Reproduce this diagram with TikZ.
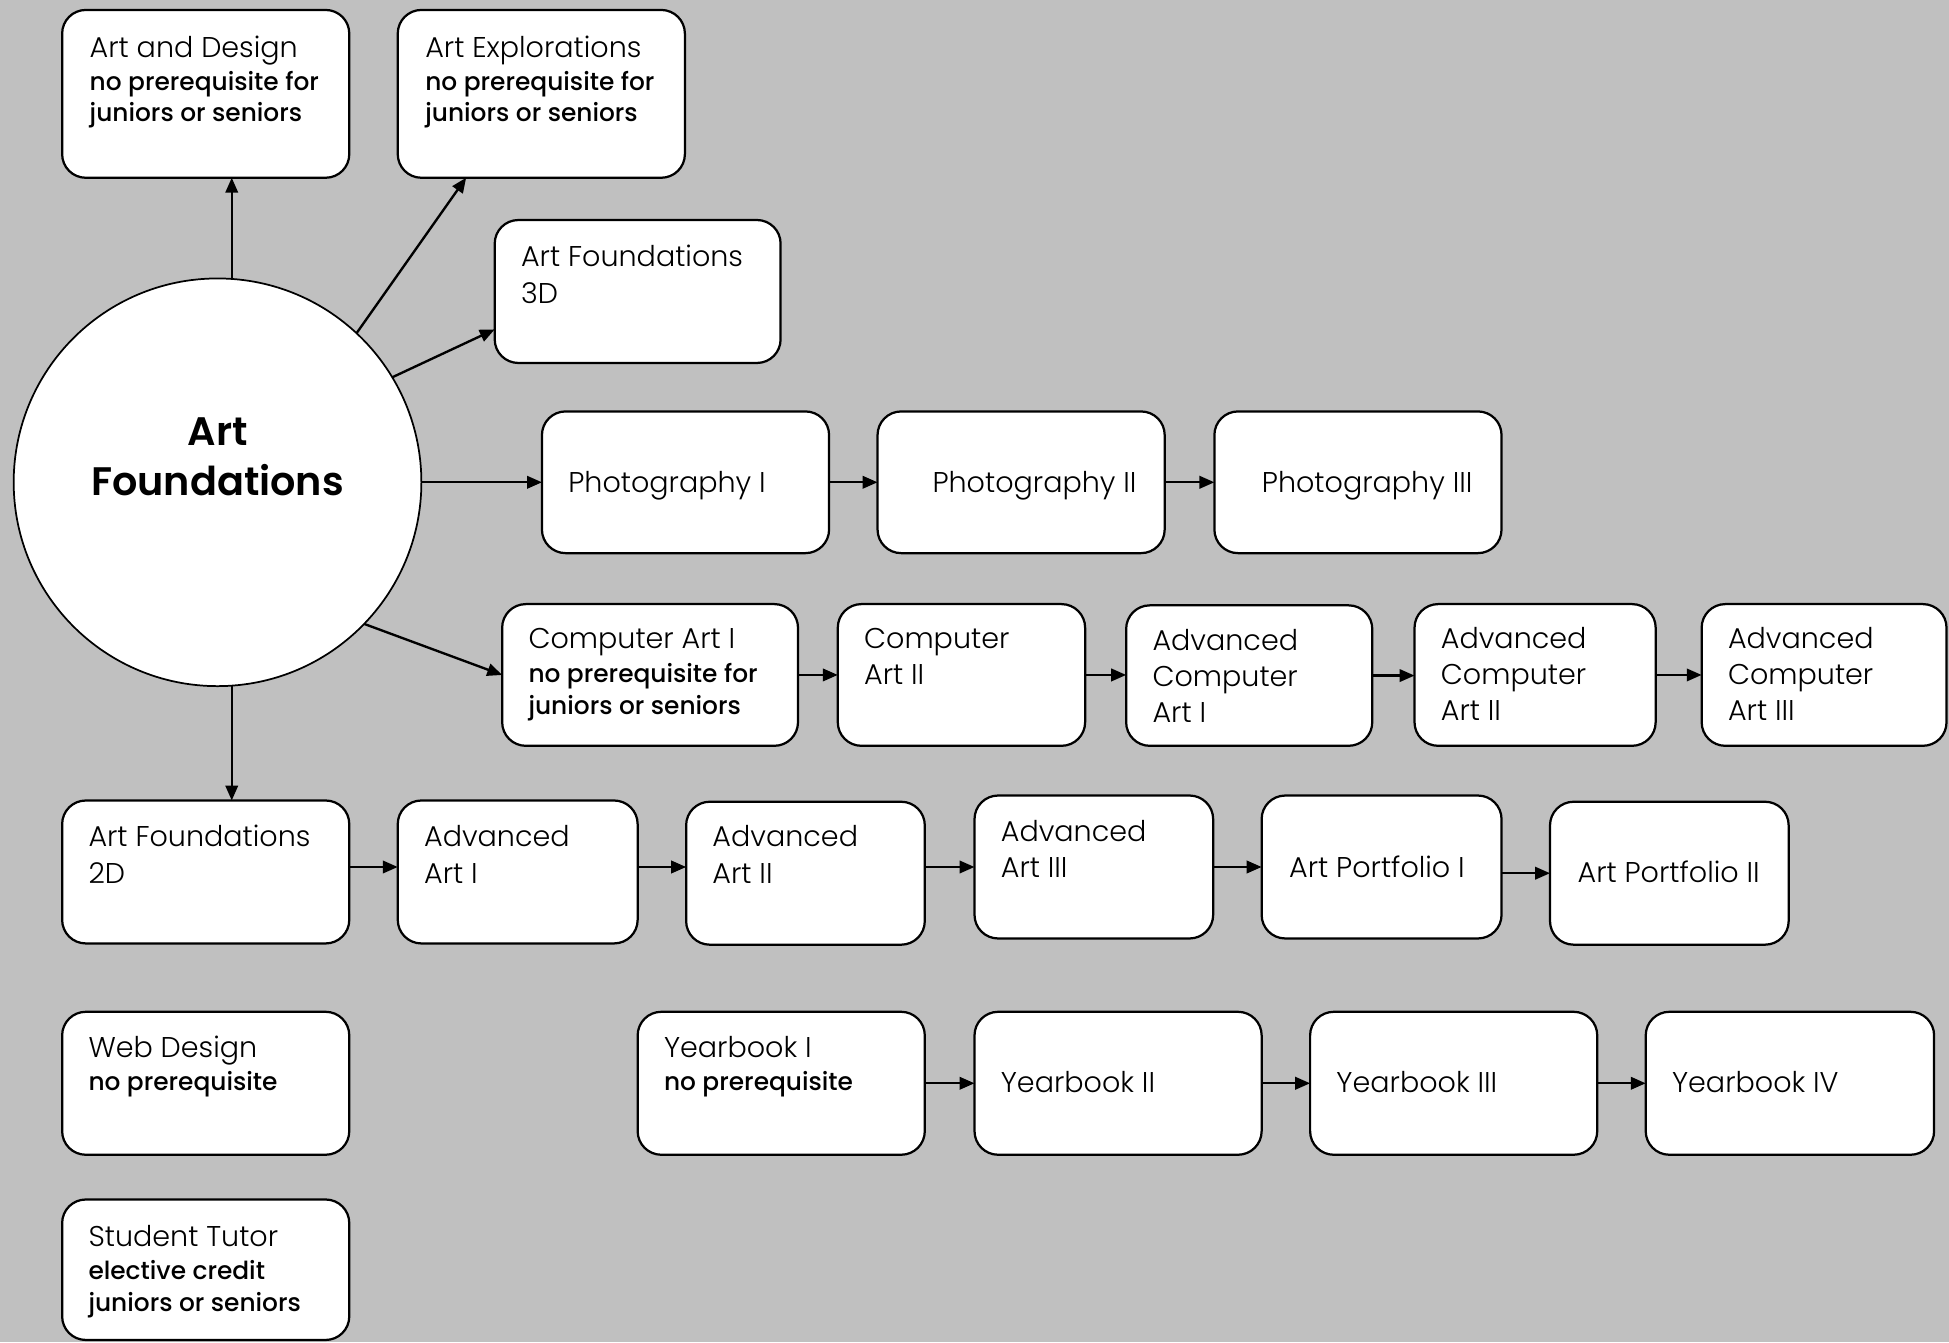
\documentclass[tikz,border=0pt]{standalone}
\usepackage{fontspec}
\setmainfont{Poppins}[UprightFont=* Light, BoldFont=* Medium]
\newfontfamily\bigfont{Poppins SemiBold}
\usetikzlibrary{arrows.meta,calc}
\definecolor{bg}{HTML}{C0C0C0}
\tikzset{
 rbox/.style={draw=black, line width=1.8pt, fill=white, rounded corners=19pt, inner sep=0pt, outer sep=0pt, rectangle},
 circ/.style={draw=black, line width=1.4pt, fill=white, circle, minimum size=328pt, inner sep=0pt, outer sep=0pt},
 reg/.style={anchor=base west, inner sep=0pt, font=\fontsize{23}{28}\selectfont},
 bld/.style={anchor=base west, inner sep=0pt, font=\bfseries\fontsize{20}{25}\selectfont},
 big/.style={anchor=base, inner sep=0pt, font=\bigfont\fontsize{32}{40}\selectfont},
 arr/.style={line width=1.9pt, -{Triangle[length=12pt,width=10pt]}},
}
\newcommand\rb[5]{\node[rbox, minimum width={(#4-#2)*1pt}, minimum height={(#5-#3)*1pt}] (#1) at ({(#2+#4)/2},{(#3+#5)/2}) {};}
\newcommand\tl[5]{\node[#2] (#1) at (#3,#4) {#5};}
\begin{document}
\begin{tikzpicture}[x=1pt,y=-1pt]
\fill[bg] (0,0) rectangle (1568,1080);
\useasboundingbox (0,0) rectangle (1568,1080);
% circle
\node[circ] (af) at (175,388) {};
\tl{afa}{big}{175}{358}{Art}
\tl{afb}{big}{175}{399}{Foundations}
% boxes
\rb{ad}{50}{8}{281}{143}
\rb{ae}{320}{8}{551}{143}
\rb{f3}{398}{177}{628}{292}
\rb{p1}{436}{331}{667}{445}
\rb{p2}{706}{331}{937}{445}
\rb{p3}{977}{331}{1208}{445}
\rb{c1}{404}{486}{642}{600}
\rb{c2}{674}{486}{873}{600}
\rb{c3}{906}{487}{1104}{600}
\rb{c4}{1138}{486}{1332}{600}
\rb{c5}{1369}{486}{1566}{600}
\rb{f2}{50}{644}{281}{759}
\rb{a1}{320}{644}{513}{759}
\rb{a2}{552}{645}{744}{760}
\rb{a3}{784}{640}{976}{755}
\rb{o1}{1015}{640}{1208}{755}
\rb{o2}{1247}{645}{1439}{760}
\rb{wd}{50}{814}{281}{929}
\rb{y1}{513}{814}{744}{929}
\rb{y2}{784}{814}{1015}{929}
\rb{y3}{1054}{814}{1285}{929}
\rb{y4}{1324}{814}{1556}{929}
\rb{st}{50}{965}{281}{1078}
% texts
\tl{ad1}{reg}{72}{46}{Art and Design}
\tl{ad2}{bld}{72}{73}{no prerequisite for}
\tl{ad3}{bld}{72}{98}{juniors or seniors}
\tl{ae1}{reg}{342}{46}{Art Explorations}
\tl{ae2}{bld}{342}{73}{no prerequisite for}
\tl{ae3}{bld}{342}{98}{juniors or seniors}
\tl{f31}{reg}{419}{214}{Art Foundations}
\tl{f32}{reg}{419}{244}{3D}
\tl{p1t}{reg}{457}{396}{Photography I}
\tl{p2t}{reg}{750}{396}{Photography II}
\tl{p3t}{reg}{1015}{396}{Photography III}
\tl{c11}{reg}{425}{522}{Computer Art I}
\tl{c12}{bld}{425}{549}{no prerequisite for}
\tl{c13}{bld}{425}{575}{juniors or seniors}
\tl{c21}{reg}{695}{522}{Computer}
\tl{c22}{reg}{695}{551}{Art II}
\tl{c31}{reg}{927}{523}{Advanced}
\tl{c32}{reg}{927}{552}{Computer}
\tl{c33}{reg}{927}{581}{Art I}
\tl{c41}{reg}{1159}{522}{Advanced}
\tl{c42}{reg}{1159}{551}{Computer}
\tl{c43}{reg}{1159}{580}{Art II}
\tl{c51}{reg}{1390}{522}{Advanced}
\tl{c52}{reg}{1390}{551}{Computer}
\tl{c53}{reg}{1390}{580}{Art III}
\tl{f21}{reg}{71}{681}{Art Foundations}
\tl{f22}{reg}{71}{711}{2D}
\tl{a11}{reg}{341}{681}{Advanced}
\tl{a12}{reg}{341}{711}{Art I}
\tl{a21}{reg}{573}{681}{Advanced}
\tl{a22}{reg}{573}{711}{Art II}
\tl{a31}{reg}{805}{677}{Advanced}
\tl{a32}{reg}{805}{706}{Art III}
\tl{o1t}{reg}{1037}{706}{Art Portfolio I}
\tl{o2t}{reg}{1269}{710}{Art Portfolio II}
\tl{wd1}{reg}{71}{851}{Web Design}
\tl{wd2}{bld}{71}{877}{no prerequisite}
\tl{y11}{reg}{534}{851}{Yearbook I}
\tl{y12}{bld}{534}{877}{no prerequisite}
\tl{y2t}{reg}{805}{879}{Yearbook II}
\tl{y3t}{reg}{1075}{879}{Yearbook III}
\tl{y4t}{reg}{1345}{879}{Yearbook IV}
\tl{st1}{reg}{71}{1003}{Student Tutor}
\tl{st2}{bld}{71}{1029}{elective credit}
\tl{st3}{bld}{71}{1055}{juniors or seniors}
% connectors
\draw[arr] (af.86.85) -- (af.86.85 |- ad.south);
\draw[arr] (af.47.5) -- ($(ae.south west)+(55,0)$);
\draw[arr] (af.31.1) -- ($(f3.west)+(0,30.5)$);
\draw[arr] (af.east) -- (p1.west);
\draw[arr] (p1.east) -- (p2.west);
\draw[arr] (p2.east) -- (p3.west);
\draw[arr] (af.-44.8) -- (c1.west);
\draw[arr] (af.-86.85) -- (af.-86.85 |- f2.north);
\draw[arr] (c1.east) -- (c1.east -| c2.west);
\draw[arr] (c2.east) -- (c2.east -| c3.west);
\draw[arr] (c3.east) -- (c3.east -| c4.west);
\draw[arr] (c4.east) -- (c4.east -| c5.west);
\draw[arr] (f2.east |- a3.west) -- (a1.west |- a3.west);
\draw[arr] (a1.east |- a3.west) -- (a2.west |- a3.west);
\draw[arr] (a2.east |- a3.west) -- (a3.west);
\draw[arr] (a3.east) -- (o1.west);
\draw[arr] (o1.east |- o2.west) -- (o2.west);
\draw[arr] (y1.east) -- (y2.west);
\draw[arr] (y2.east) -- (y3.west);
\draw[arr] (y3.east) -- (y4.west);
\end{tikzpicture}
\end{document}
